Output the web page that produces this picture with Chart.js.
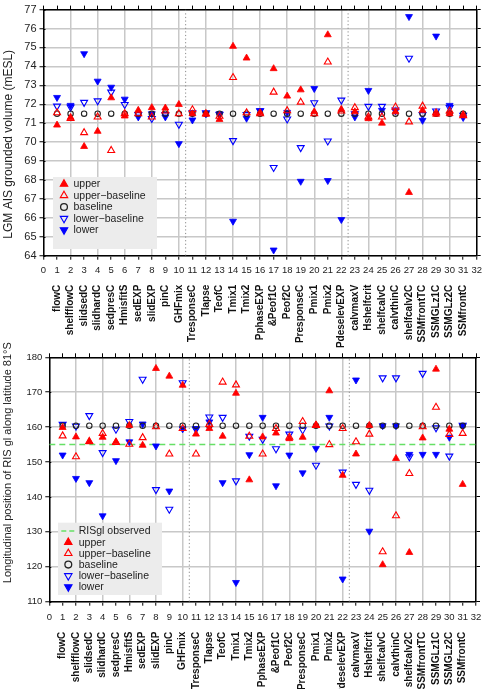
<!DOCTYPE html>
<html><head><meta charset="utf-8">
<script src="https://cdn.jsdelivr.net/npm/chart.js@4.4.0/dist/chart.umd.min.js"></script>
<style>
html,body{margin:0;padding:0;background:#fff;width:487px;height:689px;overflow:hidden;}
canvas{position:absolute;left:0;}
#c1{top:0;}
#c2{top:335px;}
</style></head><body>
<canvas id="c1" width="487" height="360"></canvas>
<canvas id="c2" width="487" height="354"></canvas>
<script>
const categories = ['flowC','shelfflowC','slidsedC','slidhardC','sedpresC','HmisfitS','sedEXP','slidEXP','pinC','GHFmix','TresponseC','Tlapse','TeofC','Tmix1','Tmix2','PphaseEXP','&Peof1C','Peof2C','PresponseC','Pmix1','Pmix2','PdeselevEXP','calvmaxV','Hshelfcrit','shelfcalvC','calvthinC','shelfcalv2C','SSMfrontTC','SSMGLz1C','SSMGLz2C','SSMfrontC'];
const xTickLabels = ['0','1','2','3','4','5','6','7','8','9','10','11','12','13','14','15','16','17','18','19','20','21','22','23','24','25','26','27','28','29','30','31','32'];
const topYTicks = [64,65,66,67,68,69,70,71,72,73,74,75,76,77];
const bottomYTicks = [110,120,130,140,150,160,170,180];
const separators = [10.5, 22.5];
const seriesNames = ['upper','upper\u2212baseline','baseline','lower\u2212baseline','lower'];
const observedName = 'RISgl observed';
const observedRISgl = 155;
const topTitle = 'LGM AIS grounded volume (mESL)';
const bottomTitle = 'Longitudinal position of RIS gl along latitude 81\u00b0S';

// Top panel: LGM AIS grounded volume (mESL)
const upperTop     = [70.9,71.3,69.77,70.57,72.34,71.38,71.68,71.82,71.8,71.99,71.5,71.47,71.2,75.06,74.44,71.55,73.88,72.43,72.76,71.6,75.67,71.73,71.6,71.24,71.0,71.6,67.34,71.68,71.47,71.5,71.45];
const upperBaseTop = [71.55,71.25,70.5,71.33,69.56,71.5,71.5,71.33,71.64,71.5,71.71,71.5,71.37,73.41,71.55,71.5,72.64,71.66,72.11,71.5,74.23,71.64,71.82,71.33,71.33,71.85,71.07,71.9,71.55,71.64,71.4];
const baselineTop  = [71.5,71.5,71.5,71.5,71.5,71.5,71.5,71.5,71.5,71.5,71.5,71.5,71.5,71.5,71.5,71.5,71.5,71.5,71.5,71.5,71.5,71.5,71.5,71.5,71.5,71.5,71.5,71.5,71.5,71.5,71.5];
const lowerBaseTop = [71.9,71.85,72.1,72.18,72.64,71.99,71.45,71.25,71.45,70.94,71.55,71.55,71.45,70.08,71.45,71.66,68.66,71.22,69.71,72.08,70.06,72.22,71.5,71.89,71.89,71.7,74.43,71.45,71.64,71.82,71.42];
const lowerTop     = [72.36,71.94,74.67,73.22,72.9,72.27,71.33,71.5,71.33,69.92,71.17,71.5,71.5,65.82,71.26,71.66,64.3,71.57,67.93,72.83,67.97,65.91,71.33,72.73,71.68,71.65,76.63,71.15,75.6,71.94,71.3];

// Bottom panel: longitudinal position of RIS gl along 81°S
const upperBot     = [159.9,157.2,155.8,157.1,155.8,160.5,154.8,176.8,174.6,172.0,158.0,159.6,157.4,169.7,144.9,157.2,158.3,156.7,157.1,160.6,170.4,146.2,152.3,160.5,120.6,151.0,124.1,156.9,176.6,159.4,143.6];
const upperBaseBot = [157.5,151.5,155.9,158.2,155.6,155.1,157.0,160.1,152.3,159.6,152.3,160.8,172.9,172.1,157.4,152.3,159.6,157.1,161.6,160.5,155.0,159.6,155.8,158.0,124.3,134.6,146.7,160.1,165.7,157.9,158.2];
const baselineBot  = [160.4,160.4,160.4,160.4,160.4,160.4,160.4,160.4,160.4,160.4,160.4,160.4,160.4,160.4,160.4,160.4,160.4,160.4,160.4,160.4,160.4,160.4,160.4,160.4,160.4,160.4,160.4,160.4,160.4,160.4,160.4];
const lowerBaseBot = [160.8,160.3,163.3,152.7,159.4,161.6,173.7,142.1,136.5,172.7,159.4,162.9,162.8,144.6,157.4,156.5,153.8,158.0,159.2,149.1,160.3,147.1,143.6,141.9,174.1,174.1,151.5,175.4,159.8,151.7,160.5];
const lowerBot     = [152.0,145.3,144.1,134.6,150.4,155.8,160.9,154.6,141.7,159.5,159.6,161.5,144.1,115.5,152.1,162.8,143.2,152.0,146.9,153.9,162.8,116.5,173.5,130.2,160.4,160.4,152.2,152.2,152.2,157.1,160.3];

const RED = '#ff0000', BLUE = '#0000ff', GREEN = '#66e066', GRID = '#c8c8c8';
const FONT = '"Liberation Sans", Arial, sans-serif';
const NBSP = '\u00a0';

const pts = arr => arr.map((v, i) => ({x: i + 1, y: v}));

function markerStyles() {
  return [
    {kind:'tri', rot:0, fill:true, color:RED, r:4},
    {kind:'tri', rot:0, fill:false, color:RED, r:4},
    {kind:'circle', fill:false, color:'#222', r:2.7},
    {kind:'tri', rot:180, fill:false, color:BLUE, r:4},
    {kind:'tri', rot:180, fill:true, color:BLUE, r:4}
  ];
}

function makeDatasets(series, yMin, yMax, withObserved) {
  const st = markerStyles();
  const ds = series.map((arr, k) => {
    const s = st[k];
    return {
      type:'scatter', label: seriesNames[k], data: pts(arr), legendStyle: s,
      pointStyle: s.kind === 'tri' ? 'triangle' : 'circle',
      pointRotation: s.rot || 0,
      pointRadius: s.r, pointHoverRadius: s.r,
      pointBackgroundColor: s.fill ? s.color : 'rgba(0,0,0,0)',
      pointBorderColor: s.color, pointBorderWidth: s.fill ? 0.8 : 1.1,
      showLine:false
    };
  });
  if (withObserved) {
    ds.push({type:'line', label: observedName, data:[{x:0,y:observedRISgl},{x:32,y:observedRISgl}],
      legendStyle:{kind:'dash', color:GREEN},
      borderColor:GREEN, borderWidth:1.5, borderDash:[6,4], pointRadius:0, fill:false});
  }
  separators.forEach(sx => {
    ds.push({type:'line', label:'sep', data:[{x:sx,y:yMin},{x:sx,y:yMax}],
      borderColor:'#8a8a8a', borderWidth:1, borderDash:[1.2,2.4], pointRadius:0, fill:false});
  });
  return ds;
}

function drawMarker(ctx, s, x, y) {
  ctx.save();
  ctx.strokeStyle = s.color; ctx.fillStyle = s.color;
  if (s.kind === 'dash') {
    ctx.lineWidth = 1.5; ctx.setLineDash([5,3]);
    ctx.beginPath(); ctx.moveTo(x - 7, y); ctx.lineTo(x + 6, y); ctx.stroke();
  } else if (s.kind === 'circle') {
    ctx.lineWidth = 1.3;
    ctx.beginPath(); ctx.arc(x, y, 3.4, 0, Math.PI * 2); ctx.stroke();
  } else {
    const r = 4.3, rot = (s.rot || 0) * Math.PI / 180;
    ctx.beginPath();
    for (let i = 0; i < 3; i++) {
      const a = rot + i * 2 * Math.PI / 3;
      const px = x + Math.sin(a) * r, py = y - Math.cos(a) * r;
      if (i === 0) ctx.moveTo(px, py); else ctx.lineTo(px, py);
    }
    ctx.closePath();
    if (s.fill) { ctx.fill(); }
    ctx.lineWidth = 1.1; ctx.stroke();
  }
  ctx.restore();
}

const innerLegend = {
  id:'innerLegend',
  afterDraw(chart, args, o) {
    const ctx = chart.ctx;
    const items = chart.data.datasets.filter(d => d.legendStyle);
    items.sort((a, b) => (b.legendStyle.kind === 'dash') - (a.legendStyle.kind === 'dash'));
    ctx.save();
    ctx.fillStyle = '#ececec';
    ctx.fillRect(o.x, o.y, o.w, o.h);
    ctx.font = '10.5px ' + FONT;
    ctx.textBaseline = 'middle';
    items.forEach((d, i) => {
      const yy = o.y0 + i * o.dy;
      drawMarker(ctx, d.legendStyle, o.mx, yy);
      ctx.fillStyle = '#222';
      ctx.fillText(d.label, o.tx, yy + 0.5);
    });
    ctx.restore();
  }
};

// short inward stubs of the left-axis tick marks (ticks cross the axis line)
const crossTicks = {
  id:'crossTicks',
  afterDraw(chart) {
    const ctx = chart.ctx, ys = chart.scales.y, a = chart.chartArea;
    ctx.save();
    ctx.strokeStyle = '#000'; ctx.lineWidth = 1;
    ys.ticks.forEach(t => {
      const py = Math.round(ys.getPixelForValue(t.value)) + 0.5;
      ctx.beginPath(); ctx.moveTo(a.left, py); ctx.lineTo(a.left + 2, py); ctx.stroke();
    });
    ctx.restore();
  }
};

function makeScales(o) {
  return {
    x: {type:'linear', position:'bottom', min:0, max:32,
      ticks:{stepSize:1, autoSkip:false, maxRotation:0, minRotation:0, padding:o.xPad,
        font:{family:FONT, size:9.5}, color:'#222', callback:(v) => xTickLabels[v]},
      grid:{color:(c) => (c.tick && c.tick.value % 2 === 0) ? GRID : 'rgba(0,0,0,0)', lineWidth:1.5,
        tickColor:'#000', tickLength:4, tickWidth:1},
      border:{color:'#000', width:1.5},
      afterFit:(s) => { s.height = o.xH; }
    },
    xc: {type:'linear', position:'bottom', min:0, max:32,
      afterBuildTicks:(s) => { s.ticks = categories.map((c, i) => ({value: i + 1})); },
      ticks:{autoSkip:false, minRotation:90, maxRotation:90, padding:o.xcPad,
        font:{family:FONT, size:10, weight:'bold'}, color:'#111',
        callback:(v) => categories[v - 1]},
      grid:{display:false, drawTicks:false}, border:{display:false},
      afterFit:(s) => { s.height = o.xcH; }
    },
    xt: {type:'linear', position:'top', min:0, max:32,
      ticks:{stepSize:1, display:false, autoSkip:false},
      grid:{drawOnChartArea:false, tickColor:'#000', tickLength:4, tickWidth:1},
      border:{color:'#000', width:1.5},
      afterFit:(s) => { s.height = o.xtH; }
    },
    y: {type:'linear', position:'left', min:o.yMin, max:o.yMax,
      afterBuildTicks:(s) => { s.ticks = o.yTicks.map(v => ({value:v})); },
      ticks:{padding:3, font:{family:FONT, size:o.yFont}, color:'#222'},
      grid:{color:GRID, lineWidth:1.5, tickColor:'#000', tickLength:4, tickWidth:1},
      border:{color:'#000', width:1.5},
      title:{display:true, text:o.title, font:{family:FONT, size:o.titleFont}, color:'#222', padding:{top:1, bottom:0}},
      afterFit:(s) => { s.width = o.yW; }
    },
    yr: {type:'linear', position:'right', min:o.yMin, max:o.yMax,
      afterBuildTicks:(s) => { s.ticks = o.yTicks.map(v => ({value:v})); },
      ticks:{display:false},
      grid:{drawOnChartArea:false, tickColor:'#000', tickLength:4, tickWidth:1},
      border:{color:'#000', width:1.5},
      afterFit:(s) => { s.width = o.yrW; }
    }
  };
}

function makeChart(id, datasets, scaleOpts, legendOpts) {
  return new Chart(document.getElementById(id), {
    data:{datasets},
    options:{
      responsive:false, animation:false, devicePixelRatio:1,
      layout:{padding:0},
      plugins:{legend:{display:false}, tooltip:{enabled:false}, innerLegend:legendOpts},
      scales: makeScales(scaleOpts)
    },
    plugins:[crossTicks, innerLegend]
  });
}

makeChart('c1',
  makeDatasets([upperTop, upperBaseTop, baselineTop, lowerBaseTop, lowerTop], 64, 77, false),
  {yMin:64, yMax:77, yTicks:topYTicks, title: topTitle + NBSP.repeat(7), titleFont:12, yFont:11,
   yW:43.5, yrW:10.3, xtH:8, xH:20, xcH:84.3, xPad:5, xcPad:9},
  {x:53, y:177, w:104, h:72, y0:184, dy:11.5, mx:64, tx:73.5});

makeChart('c2',
  makeDatasets([upperBot, upperBaseBot, baselineBot, lowerBaseBot, lowerBot], 110, 180, true),
  {yMin:110, yMax:180, yTicks:bottomYTicks, title: NBSP.repeat(11) + bottomTitle, titleFont:11, yFont:9.5,
   yW:49.3, yrW:11, xtH:22.3, xH:22, xcH:65.3, xPad:5.5, xcPad:8},
  {x:58, y:187.7, w:104, h:72.3, y0:196, dy:11.2, mx:68.3, tx:78.7});
</script>
</body></html>
